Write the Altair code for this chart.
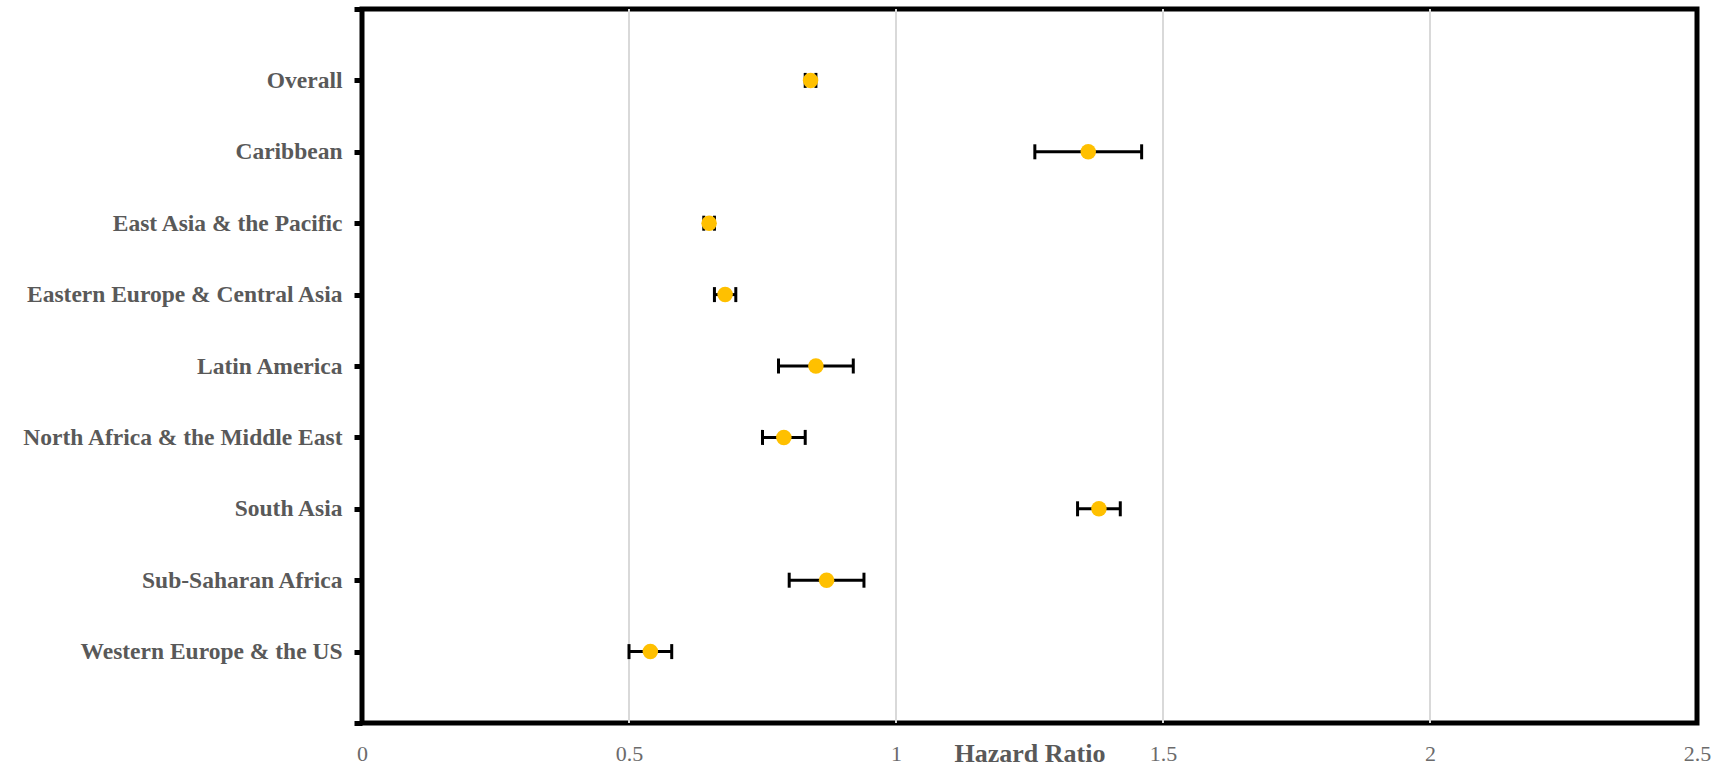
import altair as alt
import pandas as pd

regions = [
    "Overall",
    "Caribbean",
    "East Asia & the Pacific",
    "Eastern Europe & Central Asia\u2005",
    "Latin America\u2005",
    "North Africa & the Middle East\u2005",
    "South Asia\u2005",
    "Sub-Saharan Africa",
    "Western Europe & the US\u2005",
]
hazard = [0.84, 1.36, 0.65, 0.68, 0.85, 0.79, 1.38, 0.87, 0.54]
ci_low = [0.83, 1.26, 0.64, 0.66, 0.78, 0.75, 1.34, 0.80, 0.50]
ci_high = [0.85, 1.46, 0.66, 0.70, 0.92, 0.83, 1.42, 0.94, 0.58]
x_ticks = [0, 0.5, 1, 1.5, 2, 2.5]
x_grid = [0.5, 1, 1.5, 2]

df = pd.DataFrame({
    "region": regions,
    "pos": list(range(1, len(regions) + 1)),
    "hr": hazard,
    "lo": ci_low,
    "hi": ci_high,
})
grid_df = pd.DataFrame({"g": x_grid})

names_js = "[" + ",".join("'" + r + "'" for r in regions) + "]"
label_expr = f"{names_js}[datum.value - 1] || ''"

x_scale = alt.Scale(domain=[0, 2.5], nice=False, zero=False)
y_scale = alt.Scale(domain=[0, len(regions) + 1], reverse=True, nice=False, zero=False)

x_axis = alt.Axis(
    values=x_ticks, title="Hazard Ratio", grid=False,
    ticks=False, domain=False, labelFont="Liberation Serif", labelFontSize=22,
    labelColor="#6b6b6b", labelBaseline="middle", labelPadding=30, labelFlush=False,
    labelExpr="datum.value == 0 ? '0' : format(datum.value, '')",
    titleFont="Liberation Serif", titleFontSize=26, titleFontWeight="bold",
    titleColor="#595959", titleY=30, titleBaseline="middle",
)
y_axis = alt.Axis(
    values=list(range(0, len(regions) + 2)), labelExpr=label_expr, title=None,
    grid=False, domain=False, ticks=True, tickColor="black", tickWidth=5, tickSize=8,
    labelFont="Liberation Serif", labelFontSize=23.5, labelFontWeight="bold",
    labelColor="#595959", labelPadding=12, labelBound=False, labelLimit=0,
)

grid = alt.Chart(grid_df).mark_rule(color="#d9d9d9", strokeWidth=2).encode(
    x=alt.X("g:Q", scale=x_scale, axis=x_axis)
)

base = alt.Chart(df)

rules = base.mark_rule(color="black", strokeWidth=3).encode(
    x=alt.X("lo:Q", scale=x_scale),
    x2="hi:Q",
    y=alt.Y("pos:Q", scale=y_scale, axis=y_axis),
)
caps_lo = base.mark_tick(color="black", orient="vertical", thickness=3, size=15, opacity=1).encode(
    x=alt.X("lo:Q", scale=x_scale), y=alt.Y("pos:Q", scale=y_scale)
)
caps_hi = base.mark_tick(color="black", orient="vertical", thickness=3, size=15, opacity=1).encode(
    x=alt.X("hi:Q", scale=x_scale), y=alt.Y("pos:Q", scale=y_scale)
)
points = base.mark_circle(color="#FFC000", size=240, opacity=1).encode(
    x=alt.X("hr:Q", scale=x_scale), y=alt.Y("pos:Q", scale=y_scale),
    tooltip=["region", "hr", "lo", "hi"],
)

chart = (
    alt.layer(grid, rules, caps_lo, caps_hi, points)
    .properties(
        width=1335, height=714,
        autosize=alt.AutoSizeParams(type="none"),
        padding={"left": 362, "top": 9, "right": 29, "bottom": 43},
        background="white",
    )
    .configure_view(stroke="black", strokeWidth=5)
)

chart.save("out.html", embed_options={"renderer": "svg", "actions": False})
